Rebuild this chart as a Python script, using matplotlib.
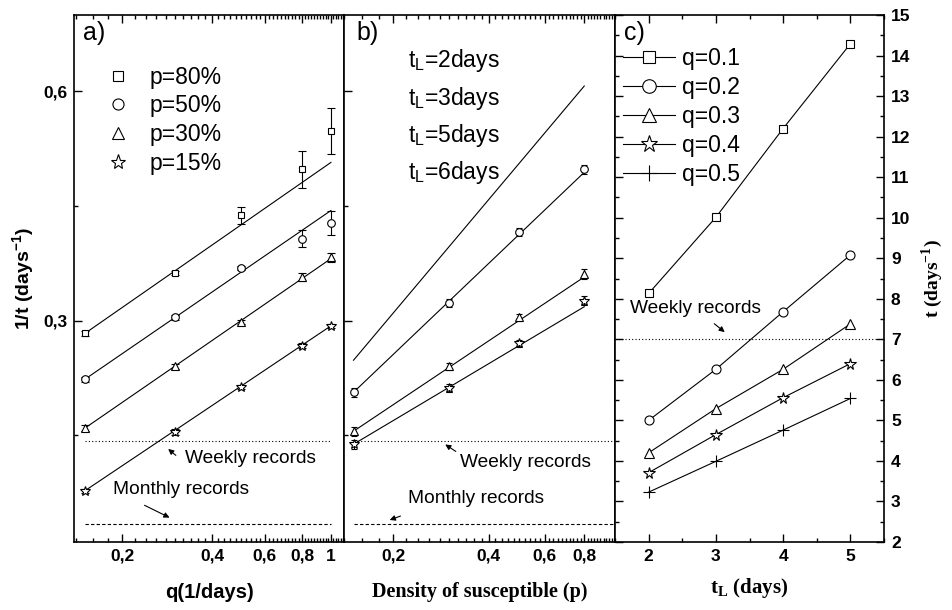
import matplotlib
matplotlib.use("Agg")
import matplotlib.pyplot as plt
from matplotlib.lines import Line2D
from matplotlib.ticker import FixedLocator, FuncFormatter, MultipleLocator, NullFormatter

plt.rcParams['font.family'] = ['Liberation Sans', 'DejaVu Sans']

# panel a: 1/t vs q for several p
q_a = [0.15, 0.3, 0.5, 0.8, 1.0]
a_p80 = [0.283, 0.362, 0.438, 0.498, 0.548]
a_p80_err = [0.003, 0.003, 0.011, 0.024, 0.030]
a_p50 = [0.223, 0.304, 0.369, 0.407, 0.428]
a_p50_err = [0.003, 0.003, 0.003, 0.011, 0.016]
a_p30 = [0.159, 0.240, 0.298, 0.357, 0.383]
a_p30_err = [0.004, 0.003, 0.003, 0.005, 0.006]
a_p15 = [0.077, 0.154, 0.213, 0.267, 0.293]
a_p15_err = [0.003, 0.004, 0.003, 0.003, 0.003]
a_fit_q = [0.15, 1.0]
a_fit_p80 = [0.283, 0.507]
a_fit_p50 = [0.223, 0.444]
a_fit_p30 = [0.159, 0.381]
a_fit_p15 = [0.077, 0.293]
a_labels = ['p=80%', 'p=50%', 'p=30%', 'p=15%']

# panel b: 1/t vs density of susceptible for several t_L
p_b = [0.15, 0.3, 0.5, 0.8]
b_fit_p = [0.15, 0.8]
b_tl2_fit = [0.248, 0.607]
b_tl3 = [0.206, 0.323, 0.416, 0.498]
b_tl3_fit = [0.206, 0.494]
b_tl5 = [0.155, 0.240, 0.304, 0.361]
b_tl5_fit = [0.155, 0.357]
b_tl6 = [0.138, 0.212, 0.270, 0.326]
b_tl6_fit = [0.138, 0.318]
b_err = [0.006, 0.005, 0.005, 0.006]
b_labels = [r't$_{\mathregular{L}}$=2days', r't$_{\mathregular{L}}$=3days',
            r't$_{\mathregular{L}}$=5days', r't$_{\mathregular{L}}$=6days']

# panel c: t vs t_L for several q
tl_c = [2, 3, 4, 5]
c_q01 = [8.13, 10.01, 12.2, 14.29]
c_q02 = [5.0, 6.26, 7.68, 9.08]
c_q03 = [4.2, 5.29, 6.26, 7.38]
c_q04 = [3.71, 4.65, 5.56, 6.40]
c_q05 = [3.23, 3.99, 4.76, 5.54]
c_labels = ['q=0.1', 'q=0.2', 'q=0.3', 'q=0.4', 'q=0.5']

weekly_days = 7
monthly_days = 30

markers = ['s', 'o', '^', '*']
msizes = [5, 5.5, 6, 7.5]

fig = plt.figure(figsize=(9.52, 6.10), dpi=100)
bottom, height = 1 - 542 / 610, (542 - 15) / 610
ax_a = fig.add_axes([74 / 952, bottom, 270 / 952, height])
ax_b = fig.add_axes([344 / 952, bottom, 271 / 952, height], sharey=ax_a)
ax_c = fig.add_axes([615 / 952, bottom, 269 / 952, height])

TICK_FS = 12.5
LEG_FS = 16.5
NOTE_FS = 13.8
comma = FuncFormatter(lambda v, pos: ('%g' % v).replace('.', ','))
arrow = dict(arrowstyle='-|>', color='black', lw=0.8, mutation_scale=8)

for ax in (ax_a, ax_b, ax_c):
    for s in ax.spines.values():
        s.set_linewidth(1.2)
    ax.tick_params(which='both', direction='in', top=True, width=1.0, pad=5)
    ax.tick_params(which='major', length=6)
    ax.tick_params(which='minor', length=3)

# ---- panel a
a_series = [(a_p80, a_p80_err, a_fit_p80), (a_p50, a_p50_err, a_fit_p50),
            (a_p30, a_p30_err, a_fit_p30), (a_p15, a_p15_err, a_fit_p15)]
for (vals, err, fit), m, ms in zip(a_series, markers, msizes):
    ax_a.plot(a_fit_q, fit, color='black', lw=0.8)
    ax_a.errorbar(q_a, vals, yerr=err, fmt=m, ms=ms, mfc='white', mec='black',
                  mew=0.8, ecolor='black', elinewidth=0.8, capsize=3, capthick=0.8)
ax_a.plot(a_fit_q, [1 / weekly_days] * 2, color='black', lw=0.8, ls=(0, (1, 2)))
ax_a.plot(a_fit_q, [1 / monthly_days] * 2, color='black', lw=0.8, ls=(0, (3, 2)))

ax_a.set_xscale('log')
ax_a.set_xlim(0.138, 1.106)
ax_a.set_ylim(0.01, 0.70)
ax_a.xaxis.set_major_locator(FixedLocator([0.2, 0.4, 0.6, 0.8, 1.0]))
ax_a.xaxis.set_minor_locator(FixedLocator([0.14 + 0.02 * i for i in range(49)]))
ax_a.xaxis.set_major_formatter(comma)
ax_a.xaxis.set_minor_formatter(NullFormatter())
ax_a.yaxis.set_major_locator(MultipleLocator(0.3))
ax_a.yaxis.set_minor_locator(MultipleLocator(0.15))
ax_a.yaxis.set_major_formatter(comma)
for lab in ax_a.get_xticklabels() + ax_a.get_yticklabels():
    lab.set_fontsize(TICK_FS)
    lab.set_fontweight('bold')
ax_a.set_xlabel('q(1/days)', fontsize=14.5, fontweight='bold', labelpad=14)
ax_a.set_ylabel(r'1/t (days$^{\mathregular{-1}}$)', fontsize=14, fontweight='bold', labelpad=4)

hand_a = [Line2D([], [], ls='none', marker=m, ms=ms * 1.45, mfc='white', mec='black', mew=0.8)
          for m, ms in zip(markers, msizes)]
ax_a.legend(hand_a, a_labels, loc='upper left', bbox_to_anchor=(0.13, 0.904),
            frameon=False, fontsize=LEG_FS, handlelength=0.75, handletextpad=1.0,
            labelspacing=0.25, borderpad=0, borderaxespad=0)
ax_a.text(0.035, 0.965, 'a)', transform=ax_a.transAxes, fontsize=18, va='center', ha='left')

ax_a.text(0.41, 0.159, 'Weekly records', transform=ax_a.transAxes, fontsize=NOTE_FS, va='center')
ax_a.annotate('', xy=(0.341, 0.180), xytext=(0.385, 0.161), xycoords='axes fraction',
              arrowprops=arrow)
ax_a.text(0.144, 0.100, 'Monthly records', transform=ax_a.transAxes, fontsize=NOTE_FS, va='center')
ax_a.annotate('', xy=(0.363, 0.044), xytext=(0.252, 0.072), xycoords='axes fraction',
              arrowprops=arrow)

# ---- panel b
ax_b.plot(b_fit_p, b_tl2_fit, color='black', lw=0.8)
b_series = [(b_tl3, b_tl3_fit, 'o', 5.5), (b_tl5, b_tl5_fit, '^', 6), (b_tl6, b_tl6_fit, '*', 7.5)]
for vals, fit, m, ms in b_series:
    ax_b.plot(b_fit_p, fit, color='black', lw=0.8)
    ax_b.errorbar(p_b, vals, yerr=b_err, fmt=m, ms=ms, mfc='white', mec='black',
                  mew=0.8, ecolor='black', elinewidth=0.8, capsize=2.5, capthick=0.8)
ax_b.plot([p_b[0], 1.0], [1 / weekly_days] * 2, color='black', lw=0.8, ls=(0, (1, 2)))
ax_b.plot([p_b[0], 1.0], [1 / monthly_days] * 2, color='black', lw=0.8, ls=(0, (3, 2)))

ax_b.set_xscale('log')
ax_b.set_xlim(0.14, 1.0)
ax_b.xaxis.set_major_locator(FixedLocator([0.2, 0.4, 0.6, 0.8]))
ax_b.xaxis.set_minor_locator(FixedLocator([0.14 + 0.02 * i for i in range(44)]))
ax_b.xaxis.set_major_formatter(comma)
ax_b.xaxis.set_minor_formatter(NullFormatter())
ax_b.tick_params(axis='y', labelleft=False)
for lab in ax_b.get_xticklabels():
    lab.set_fontsize(TICK_FS)
    lab.set_fontweight('bold')
ax_b.set_xlabel('Density of susceptible (p)', fontsize=14.5, fontweight='bold',
                family='Liberation Serif', labelpad=13)
for i, lab in enumerate(b_labels):
    ax_b.text(0.236, 0.913 - 0.0705 * i, lab, transform=ax_b.transAxes, fontsize=LEG_FS, va='center')
ax_b.text(0.045, 0.965, 'b)', transform=ax_b.transAxes, fontsize=18, va='center', ha='left')

ax_b.text(0.428, 0.150, 'Weekly records', transform=ax_b.transAxes, fontsize=NOTE_FS, va='center')
ax_b.annotate('', xy=(0.365, 0.188), xytext=(0.421, 0.169), xycoords='axes fraction',
              arrowprops=arrow)
ax_b.text(0.236, 0.083, 'Monthly records', transform=ax_b.transAxes, fontsize=NOTE_FS, va='center')
ax_b.annotate('', xy=(0.159, 0.040), xytext=(0.218, 0.051), xycoords='axes fraction',
              arrowprops=arrow)

# ---- panel c
c_series = [c_q01, c_q02, c_q03, c_q04, c_q05]
c_markers = ['s', 'o', '^', '*', '+']
c_ms = [6, 6.5, 7, 8.5, 8]
for vals, m, ms in zip(c_series, c_markers, c_ms):
    ax_c.plot(tl_c, vals, color='black', lw=0.8, marker=m, ms=ms, mfc='white',
              mec='black', mew=0.8)
ax_c.axhline(weekly_days, color='black', lw=0.8, ls=(0, (1, 2)))

ax_c.set_xlim(1.5, 5.5)
ax_c.set_ylim(2, 15)
ax_c.xaxis.set_major_locator(MultipleLocator(1))
ax_c.xaxis.set_minor_locator(MultipleLocator(0.5))
ax_c.yaxis.set_major_locator(MultipleLocator(1))
ax_c.yaxis.set_minor_locator(MultipleLocator(0.5))
ax_c.yaxis.tick_right()
ax_c.tick_params(axis='y', which='both', left=True, right=True, labelleft=False, labelright=True)
ax_c.yaxis.set_label_position('right')
for lab in ax_c.get_xticklabels() + ax_c.get_yticklabels():
    lab.set_fontsize(TICK_FS)
    lab.set_fontweight('bold')
ax_c.set_xlabel(r't$_{\mathregular{L}}$ (days)', fontsize=15, fontweight='bold',
                family='Liberation Serif', labelpad=9)
ax_c.set_ylabel(r't (days$^{\mathregular{-1}}$)', fontsize=14, fontweight='bold',
                family='Liberation Serif', labelpad=6)

hand_c = [Line2D([], [], color='black', lw=0.8, marker=m, ms=ms * 1.5, mfc='white',
                 mec='black', mew=0.8) for m, ms in zip(c_markers, c_ms)]
ax_c.legend(hand_c, c_labels, loc='upper left', bbox_to_anchor=(0.03, 0.94),
            frameon=False, fontsize=LEG_FS, handlelength=2.25, handletextpad=0.3,
            labelspacing=0.27, borderpad=0, borderaxespad=0)
ax_c.text(0.035, 0.965, 'c)', transform=ax_c.transAxes, fontsize=18, va='center', ha='left')

ax_c.text(0.056, 0.444, 'Weekly records', transform=ax_c.transAxes, fontsize=NOTE_FS, va='center')
ax_c.annotate('', xy=(0.416, 0.395), xytext=(0.361, 0.4175), xycoords='axes fraction',
              arrowprops=arrow)

fig.savefig('out.png', dpi=100)
